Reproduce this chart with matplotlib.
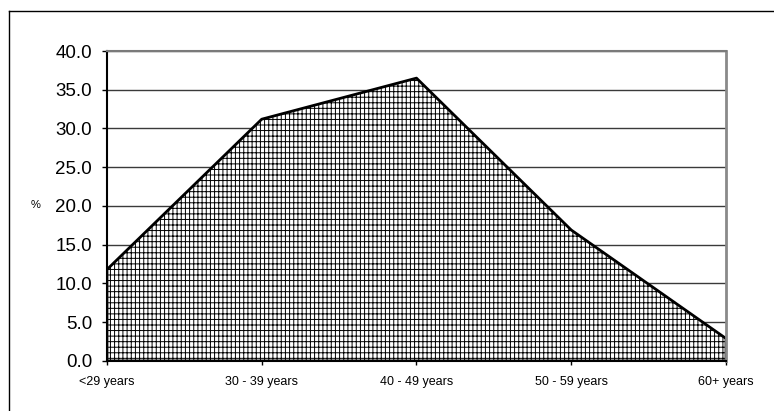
import matplotlib
matplotlib.use("Agg")
import matplotlib.pyplot as plt
from matplotlib.lines import Line2D
from matplotlib.ticker import FormatStrFormatter

# Share of respondents by age group (%)
age_groups = ["<29 years", "30 - 39 years", "40 - 49 years", "50 - 59 years", "60+ years"]
share_pct = [11.8, 31.2, 36.5, 16.9, 2.9]
y_ticks = [0, 5, 10, 15, 20, 25, 30, 35, 40]

plt.rcParams["font.family"] = ["Liberation Sans", "DejaVu Sans"]
plt.rcParams["hatch.linewidth"] = 0.7

fig = plt.figure(figsize=(7.74, 4.11), dpi=100)
ax = fig.add_axes([0.1382, 0.1217, 0.9380 - 0.1382, 0.8759 - 0.1217])

x = list(range(len(age_groups)))

# gridlines
ax.set_axisbelow(True)
ax.yaxis.grid(True, color="#3a3a3a", linewidth=1.0)

# hatched area (fine vertical, slightly coarser horizontal) with black outline
ax.fill_between(x, share_pct, 0, facecolor="white", hatch="||||---",
                edgecolor="black", linewidth=2.0, zorder=2)

ax.set_xlim(0, len(age_groups) - 1)
ax.set_ylim(0, 40)
ax.set_yticks(y_ticks)
ax.yaxis.set_major_formatter(FormatStrFormatter("%.1f"))
ax.set_xticks(x)
ax.set_xticklabels(age_groups)

ax.tick_params(axis="y", labelsize=13.5, length=3.6, width=1.0, pad=7, direction="out")
ax.tick_params(axis="x", labelsize=9, length=3.0, width=1.0, pad=7.5, direction="out")

for side in ("left", "bottom"):
    ax.spines[side].set_color("black")
    ax.spines[side].set_linewidth(1.5)
ax.spines["right"].set_color("#8a8a8a")
ax.spines["right"].set_linewidth(2.0)
ax.spines["top"].set_color("#7a7a7a")
ax.spines["top"].set_linewidth(1.5)

fig.text(35.5 / 774, 1 - 205 / 411, "%", fontsize=8, ha="center", va="center")

# chart frame (top and left edges visible)
fig.add_artist(Line2D([9 / 774, 9 / 774], [0, 1 - 11 / 411], transform=fig.transFigure,
                      color="black", linewidth=1.0))
fig.add_artist(Line2D([9 / 774, 1], [1 - 11 / 411, 1 - 11 / 411], transform=fig.transFigure,
                      color="black", linewidth=1.0))

fig.savefig("out.png", dpi=100, facecolor="white")
